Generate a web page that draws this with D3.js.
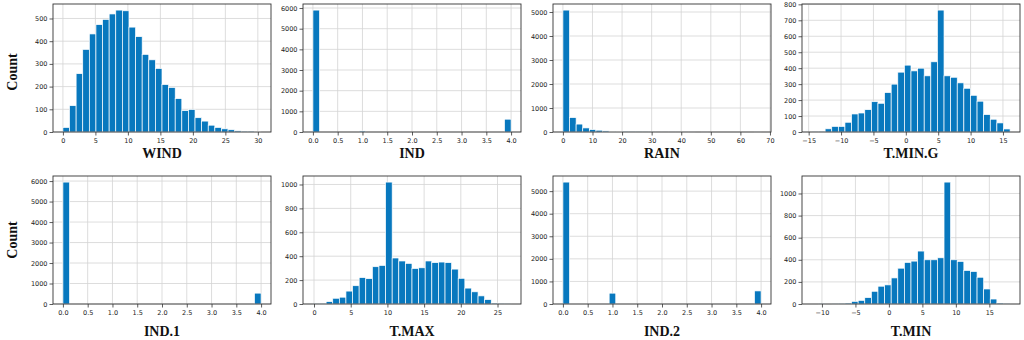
<!DOCTYPE html>
<html>
<head>
<meta charset="utf-8">
<script src="https://cdn.jsdelivr.net/npm/d3@7"></script>
<style>
  body { margin: 0; background: #fff; }
  .tick text { font-family: "DejaVu Sans", sans-serif; font-size: 6.5px; fill: #222; }
  .tick line { stroke: #333; stroke-width: 0.8; }
  .lbl { font-family: "Liberation Serif", "Times New Roman", serif; font-weight: bold; font-size: 14px; fill: #111; }
  .grid line { stroke: #d4d4d4; stroke-width: 0.8; }
  .frame { fill: none; stroke: #333; stroke-width: 0.9; }
</style>
</head>
<body>
<svg id="chart" width="1024" height="340"></svg>
<script>
// histogram counts (30 bins each)
var windCounts = [20,116,257,364,432,473,496,520,537,534,462,420,342,318,280,209,196,147,94,99,63,48,30,20,14,10,5,4,4,3]
var indCounts  = [5900,0,0,0,0,0,0,50,0,0,0,0,0,0,0,0,0,0,0,0,0,0,0,0,0,0,0,0,0,620]
var rainCounts = [5080,600,330,170,100,75,45,30,20,12,8,6,4,3,2,2,1,1,1,1,0,1,0,0,0,0,0,0,0,1]
var tmingCounts = [1,2,20,35,35,61,113,119,140,190,180,247,300,375,419,383,400,352,440,764,352,343,308,274,230,193,109,80,57,19]
var ind1Counts = [5950,0,0,0,0,0,0,0,0,0,0,0,0,0,0,0,0,0,0,0,0,0,0,0,0,0,0,0,0,530]
var tmaxCounts = [1,2,20,48,57,108,153,221,212,312,323,1020,385,360,340,297,303,360,346,351,346,292,215,133,102,68,37,8,2,1]
var ind2Counts = [5400,0,0,0,0,0,0,480,0,0,0,0,0,0,0,0,0,0,0,0,0,0,0,0,0,0,0,0,0,580]
var tminCounts = [0,1,0,1,3,9,24,33,58,115,161,173,236,324,376,388,479,400,400,418,1103,400,385,303,294,242,136,45,9,2]

// data ranges (min, max) of each variable
var windRange = [0, 30.5]
var indRange = [0, 4]
var rainRange = [0, 67]
var tmingRange = [-14.5, 16.1]
var tmaxRange = [-0.15, 26.85]
var tminRange = [-11.5, 18.1]

var names = ['WIND', 'IND', 'RAIN', 'T.MIN.G', 'IND.1', 'T.MAX', 'IND.2', 'T.MIN']

// tick labels
var indXTicks = [0, 0.5, 1, 1.5, 2, 2.5, 3, 3.5, 4]
var windXTicks = [0, 5, 10, 15, 20, 25, 30]
var rainXTicks = [0, 10, 20, 30, 40, 50, 60, 70]
var tmingXTicks = [-15, -10, -5, 0, 5, 10, 15]
var tmaxXTicks = [0, 5, 10, 15, 20, 25]
var tminXTicks = [-10, -5, 0, 5, 10, 15]
var windYTicks = [0, 100, 200, 300, 400, 500]
var indYTicks = [0, 1000, 2000, 3000, 4000, 5000, 6000]
var rainYTicks = [0, 1000, 2000, 3000, 4000, 5000]
var tmingYTicks = [0, 100, 200, 300, 400, 500, 600, 700, 800]
var tYTicks = [0, 200, 400, 600, 800, 1000]

var panels = [
  {counts: windCounts, range: windRange, xt: windXTicks, yt: windYTicks},
  {counts: indCounts, range: indRange, xt: indXTicks, yt: indYTicks, fmt: '.1f'},
  {counts: rainCounts, range: rainRange, xt: rainXTicks, yt: rainYTicks},
  {counts: tmingCounts, range: tmingRange, xt: tmingXTicks, yt: tmingYTicks},
  {counts: ind1Counts, range: indRange, xt: indXTicks, yt: indYTicks, fmt: '.1f'},
  {counts: tmaxCounts, range: tmaxRange, xt: tmaxXTicks, yt: tYTicks},
  {counts: ind2Counts, range: indRange, xt: indXTicks, yt: rainYTicks, fmt: '.1f'},
  {counts: tminCounts, range: tminRange, xt: tminXTicks, yt: tYTicks}
]

var svg = d3.select('#chart')
var colLeft = [53, 303, 553, 802],
    rowTop = [4, 176],
    pw = 218, ph = 128

panels.forEach(function(p, k) {
  var left = colLeft[k % 4], top = rowTop[Math.floor(k / 4)]
  var lo = p.range[0], hi = p.range[1], span = hi - lo
  var bw = span / p.counts.length

  var x = d3.scaleLinear().domain([lo - 0.05 * span, hi + 0.05 * span]).range([0, pw])
  var y = d3.scaleLinear().domain([0, d3.max(p.counts) * 1.05]).range([ph, 0])

  var g = svg.append('g').attr('transform', 'translate(' + left + ',' + top + ')')

  // grid
  var grid = g.append('g').attr('class', 'grid')
  grid.selectAll('.gx').data(p.xt).enter().append('line')
    .attr('x1', d => x(d)).attr('x2', d => x(d))
    .attr('y1', 0).attr('y2', ph)
  grid.selectAll('.gy').data(p.yt).enter().append('line')
    .attr('x1', 0).attr('x2', pw)
    .attr('y1', d => y(d)).attr('y2', d => y(d))

  // bars
  g.append('g').selectAll('rect')
    .data(p.counts.map(function(c, i) { return {x0: lo + i * bw, x1: lo + (i + 1) * bw, c: c} }))
    .enter().append('rect')
      .attr('x', d => x(d.x0))
      .attr('width', d => x(d.x1) - x(d.x0))
      .attr('y', d => y(d.c))
      .attr('height', d => ph - y(d.c))
      .attr('fill', '#0878be')
      .attr('stroke', '#fff')
      .attr('stroke-width', 0.7)

  // frame
  g.append('rect').attr('class', 'frame').attr('width', pw).attr('height', ph)

  // axes
  var xa = g.append('g').attr('transform', 'translate(0,' + ph + ')')
    .call(d3.axisBottom(x).tickValues(p.xt).tickFormat(d3.format(p.fmt || '')).tickSize(3.5).tickPadding(2.5))
  var ya = g.append('g')
    .call(d3.axisLeft(y).tickValues(p.yt).tickFormat(d3.format('d')).tickSize(3.5).tickPadding(2))
  xa.select('.domain').remove()
  ya.select('.domain').remove()

  g.append('text').attr('class', 'lbl')
    .attr('x', pw / 2).attr('y', k < 4 ? 154 : 160)
    .attr('text-anchor', 'middle')
    .text(names[k])
})

// y labels
;[72, 240].forEach(function(cy) {
  svg.append('text').attr('class', 'lbl')
    .attr('transform', 'translate(17,' + cy + ') rotate(-90)')
    .attr('text-anchor', 'middle')
    .text('Count')
})
</script>
</body>
</html>
